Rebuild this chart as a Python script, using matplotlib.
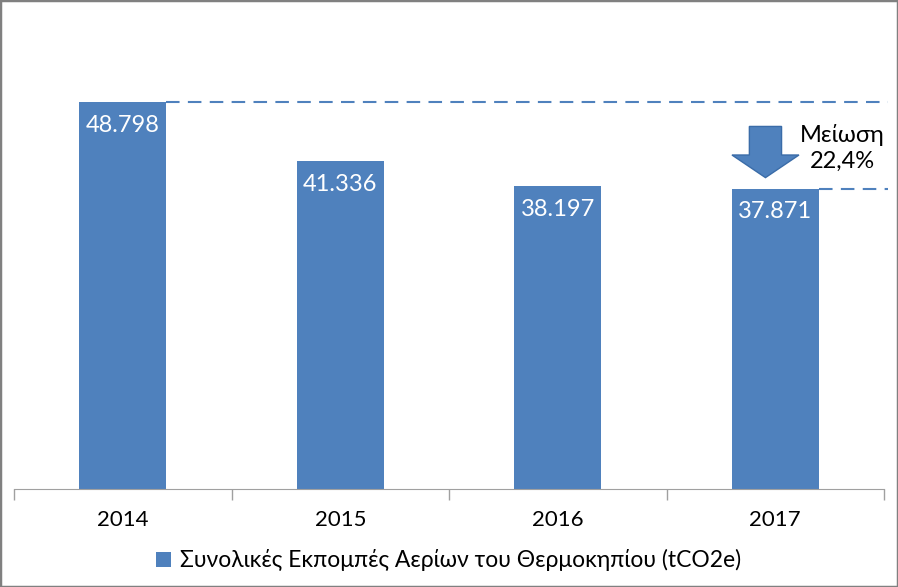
import matplotlib.pyplot as plt
from matplotlib.patches import Rectangle, Polygon

years = ["2014", "2015", "2016", "2017"]
emissions = [48.798, 41.336, 38.197, 37.871]
value_labels = ["48.798", "41.336", "38.197", "37.871"]
legend_label = "Συνολικές Εκπομπές Αερίων του Θερμοκηπίου (tCO2e)"
reduction_text = "Μείωση\n22,4%"

blue = "#4F81BD"
plt.rcParams['font.family'] = ['Lato', 'DejaVu Sans']

fig = plt.figure(figsize=(8.98, 5.87), dpi=100)
ax = fig.add_axes([14 / 898, 98 / 587, 870 / 898, 476 / 587])

x = list(range(len(years)))
bars = ax.bar(x, emissions, width=0.4, color=blue, label=legend_label, zorder=2)

for xi, v, lab in zip(x, emissions, value_labels):
    ax.text(xi, v - 1.6, lab, ha='center', va='top', color='white', fontsize=17)

ax.set_xlim(-0.5, 3.5)
ax.set_ylim(0, 60)
ax.set_yticks([])
ax.set_xticks(x)
ax.set_xticklabels(years, fontsize=16)
ax.set_xticks([-0.5, 0.5, 1.5, 2.5, 3.5], minor=True)
ax.tick_params(axis='x', which='major', length=0, pad=15)
ax.tick_params(axis='x', which='minor', length=8, color='#A0A0A0', width=1)
for s in ['top', 'right', 'left']:
    ax.spines[s].set_visible(False)
ax.spines['bottom'].set_color('#A0A0A0')

# dashed reference lines
ax.plot([0.2, 3.52], [emissions[0], emissions[0]], ls=(0, (6.5, 4)), color=blue,
        lw=1.5, clip_on=False)
ax.plot([3.2, 3.52], [emissions[-1], emissions[-1]], ls=(0, (6.5, 4)), color=blue,
        lw=1.5, clip_on=False)

# down arrow
cx = 2.955
sw, hw = 0.074, 0.154
arrow = Polygon([(cx - sw, 45.7), (cx + sw, 45.7), (cx + sw, 42.1), (cx + hw, 42.1),
                 (cx, 39.25), (cx - hw, 42.1), (cx - sw, 42.1)],
                closed=True, facecolor=blue, edgecolor='#3A6CA8', lw=1, zorder=3)
ax.add_patch(arrow)
ax.text(3.31, 43.0, reduction_text, ha='center', va='center', fontsize=17,
        color='black', linespacing=1.25)

ax.legend(loc='center', bbox_to_anchor=(0.5, -0.15), frameon=False, fontsize=16.5,
          handlelength=0.65, handleheight=0.65, handletextpad=0.4)

fig.add_artist(Rectangle((0, 0), 1, 1, transform=fig.transFigure, fill=False,
                         ec='#808080', lw=2.5))

fig.savefig("out.png", dpi=100)
